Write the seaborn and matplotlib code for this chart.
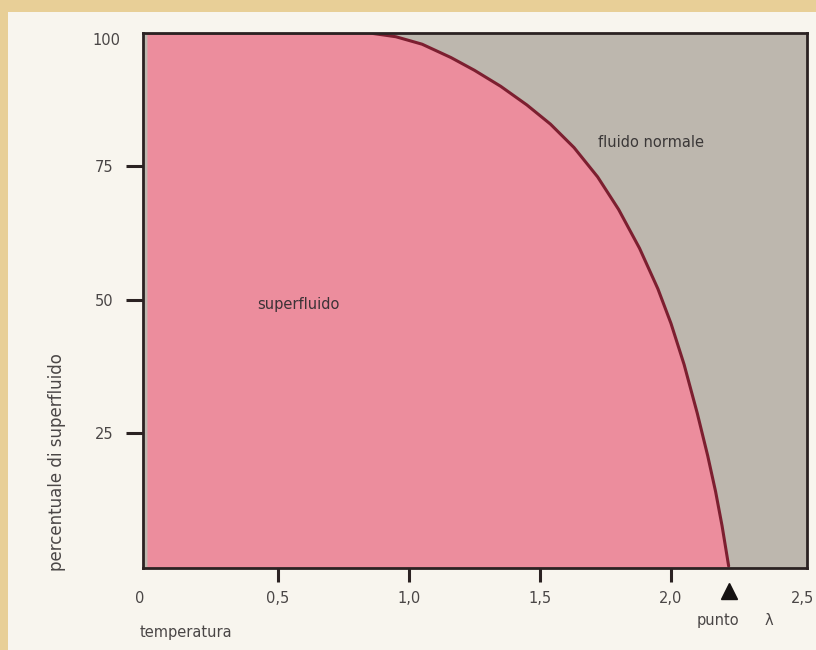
import matplotlib
matplotlib.use("Agg")
import matplotlib.pyplot as plt
import matplotlib.patches as mpatches
import matplotlib.transforms as mtransforms
import numpy as np
import pandas as pd
import seaborn as sns

# ---- data ----
temperature = [0.0, 0.5, 0.85, 0.95, 1.05, 1.16, 1.25, 1.35, 1.45, 1.54, 1.63,
               1.72, 1.80, 1.88, 1.95, 2.00, 2.05, 2.10, 2.14, 2.17, 2.195, 2.22]
superfluid_pct = [100, 100, 100, 99.3, 97.9, 95.4, 93.0, 90.0, 86.5, 82.9, 78.5,
                  73.0, 66.9, 59.6, 52.0, 45.5, 37.8, 28.7, 20.7, 14.0, 7.5, 0.0]
x_ticks = [0, 0.5, 1.0, 1.5, 2.0, 2.5]
x_tick_labels = ["0", "0,5", "1,0", "1,5", "2,0", "2,5"]
y_ticks = [25, 50, 75, 100]
y_tick_labels = ["25", "50", "75", "100"]
lambda_point = 2.22

df = pd.DataFrame({"temperatura": temperature, "pct": superfluid_pct})

sns.set_style("white")
plt.rcParams["font.family"] = ["DejaVu Sans"]

page_bg = "#e8cf97"
paper = "#f8f5ee"
pink = "#ec8d9d"
grey = "#bdb7ae"
curve_col = "#7c1f30"
text_col = "#4a4646"
fs = 10.5

fig = plt.figure(figsize=(8.16, 6.5), dpi=100, facecolor=page_bg)
fig.patches.append(mpatches.Rectangle((8 / 816, 0), 1, 1 - 12 / 650,
                                      transform=fig.transFigure, facecolor=paper,
                                      edgecolor="none", zorder=-10))

ax = fig.add_axes([143 / 816, 1 - 568 / 650, (807 - 143) / 816, (568 - 33) / 650])
ax.set_zorder(2)
ax.set_facecolor(grey)
ax.set_xlim(-0.015, 2.519)
ax.set_ylim(-0.375, 100)

ax.fill_between(df["temperatura"], -1, df["pct"], color=pink, lw=0, zorder=1)
sns.lineplot(data=df, x="temperatura", y="pct", ax=ax, color=curve_col, lw=2.2,
             zorder=3)

ax.set_xlabel("")
ax.set_ylabel("")

for s in ax.spines.values():
    s.set_linewidth(2.0)
    s.set_color("#2b2222")
    s.set_zorder(5)

ax.set_xticks(x_ticks)
ax.set_xticklabels(x_tick_labels)
ax.set_yticks(y_ticks)
ax.set_yticklabels(y_tick_labels)
ax.tick_params(axis="both", direction="out", width=2.2, color="#2b2222",
               labelcolor=text_col, labelsize=fs)
ax.tick_params(axis="x", length=10, pad=6.5, bottom=True)
ax.tick_params(axis="y", length=12, pad=9.5, left=True)
xt = ax.xaxis.get_major_ticks()
xt[0].tick1line.set_visible(False)
xt[-1].tick1line.set_visible(False)
shift = mtransforms.ScaledTranslation(-7 / 100, 0, fig.dpi_scale_trans)
xt[0].label1.set_transform(xt[0].label1.get_transform() + shift)
yt = ax.yaxis.get_major_ticks()
yt[-1].tick1line.set_visible(False)
yt[-1].set_pad(4.5)
yt[-1].label1.set_va("top")

# lambda point marker below axis
trans = mtransforms.blended_transform_factory(ax.transData, ax.transAxes)
ax.plot([lambda_point], [-0.043], marker="^", markersize=11, color="#151111",
        transform=trans, clip_on=False, zorder=6)

ax.text(0.42, 49.0, "superfluido", fontsize=fs, color="#3c3236", va="center")
ax.text(1.72, 79.4, "fluido normale", fontsize=fs, color="#3b3838", va="center")

fig.text(140 / 816, 1 - 632 / 650, "temperatura", fontsize=fs, color=text_col,
         va="center", ha="left")
fig.text(697 / 816, 1 - 625 / 650, "punto", fontsize=fs, color=text_col,
         va="baseline", ha="left")
fig.text(765 / 816, 1 - 625 / 650, "λ", fontsize=fs, color=text_col,
         va="baseline", ha="left")
fig.text(57 / 816, 1 - 462 / 650, "percentuale di superfluido", fontsize=12,
         color=text_col, rotation=90, va="center", ha="center")

fig.savefig("out.png", dpi=100, facecolor=page_bg)
